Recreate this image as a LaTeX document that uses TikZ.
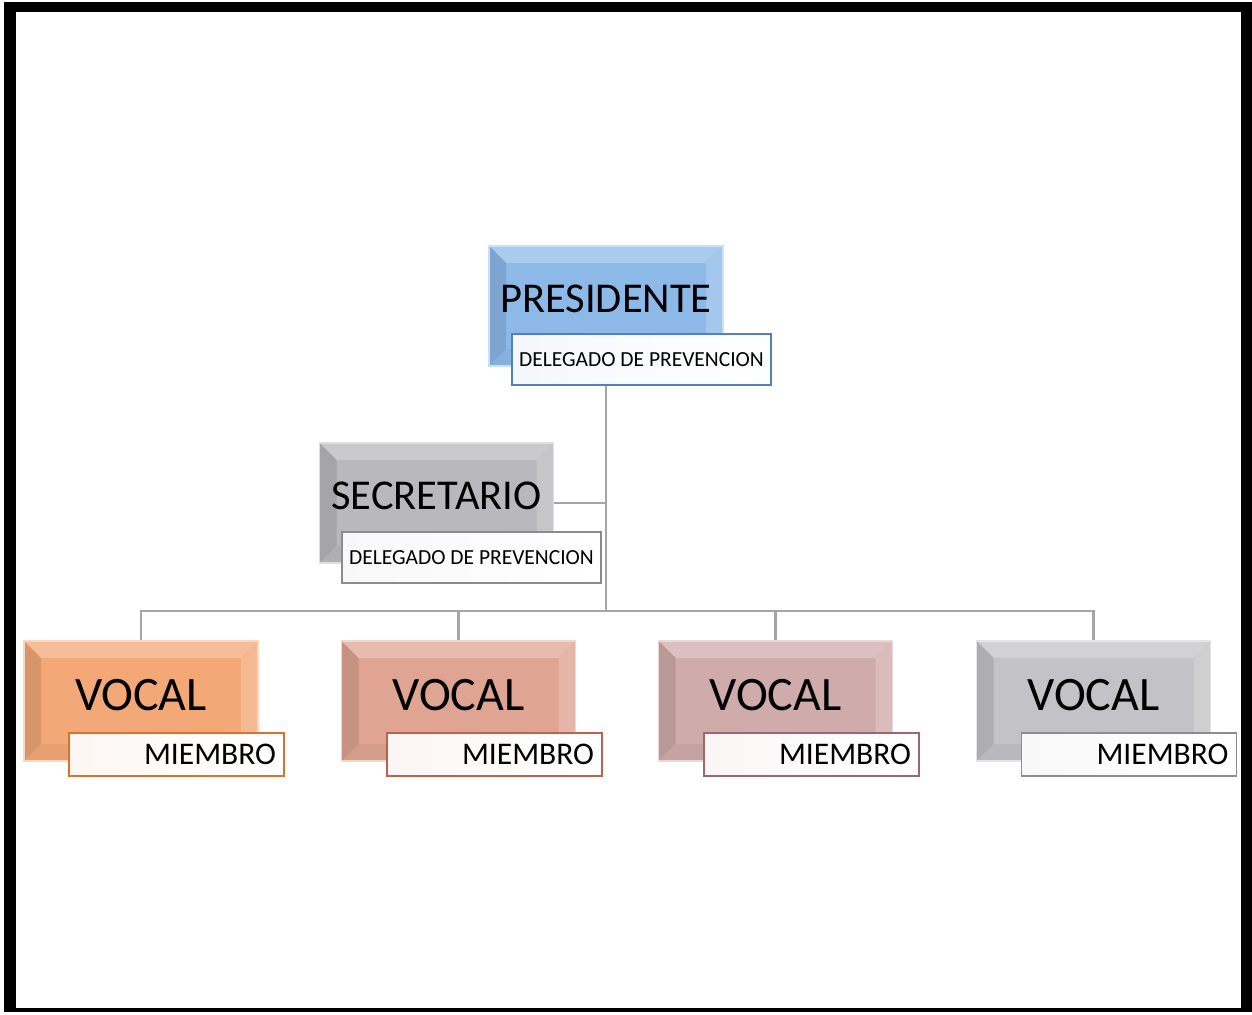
\documentclass[tikz,border=0pt]{standalone}
\usepackage{fontspec}
\setmainfont{Carlito}
\usetikzlibrary{backgrounds}

\definecolor{presblue}{HTML}{8DB9E9}
\definecolor{presedge}{HTML}{4F81BD}
\definecolor{secgrey}{HTML}{B9B9BD}
\definecolor{secedge}{HTML}{8C8C90}
\definecolor{vorange}{HTML}{F2A877}
\definecolor{vorangeedge}{HTML}{D8722F}
\definecolor{vsalmon}{HTML}{DFA492}
\definecolor{vsalmonedge}{HTML}{C0604F}
\definecolor{vrose}{HTML}{D0ABAB}
\definecolor{vroseedge}{HTML}{A0666A}
\definecolor{vgrey}{HTML}{C3C3C7}
\definecolor{vgreyedge}{HTML}{8C8C94}
\definecolor{linkgrey}{HTML}{A5A5A5}

\tikzset{
  % raised rectangle with bevelled rim
  bevelbox/.style={minimum width=234pt, minimum height=120pt, inner sep=0pt,
    fill=#1, draw=#1!45!white, line width=1.5pt,
    path picture={
      \def\bw{17pt}
      \fill[#1!75!white] (path picture bounding box.north west) -- (path picture bounding box.north east)
        -- ([shift={(-\bw,-\bw)}]path picture bounding box.north east) -- ([shift={(\bw,-\bw)}]path picture bounding box.north west) -- cycle;
      \fill[#1!80!white] (path picture bounding box.north east) -- (path picture bounding box.south east)
        -- ([shift={(-\bw,\bw)}]path picture bounding box.south east) -- ([shift={(-\bw,-\bw)}]path picture bounding box.north east) -- cycle;
      \fill[#1!89!black] (path picture bounding box.north west) -- (path picture bounding box.south west)
        -- ([shift={(\bw,\bw)}]path picture bounding box.south west) -- ([shift={(\bw,-\bw)}]path picture bounding box.north west) -- cycle;
      \fill[#1!95!black] (path picture bounding box.south west) -- (path picture bounding box.south east)
        -- ([shift={(-\bw,\bw)}]path picture bounding box.south east) -- ([shift={(\bw,\bw)}]path picture bounding box.south west) -- cycle;
    }},
  % white caption tab
  tabbox/.style={draw=#1, line width=1.8pt, left color=#1!6!white, right color=white},
  delegtab/.style={tabbox=#1, minimum width=259pt, minimum height=51pt, inner sep=0pt,
    font=\fontsize{21.5}{24}\selectfont},
  membertab/.style={tabbox=#1, text width=199pt, inner xsep=8pt, inner ysep=0pt, minimum height=43pt,
    align=right, font=\fontsize{31.5}{34}\selectfont},
  link/.style={draw=linkgrey, line width=2.5pt},
}

\begin{document}
\begin{tikzpicture}[x=1pt,y=-1pt]
\useasboundingbox (0,0) rectangle (1252,1014);

% boxes
\node[bevelbox=presblue, font=\fontsize{42.5}{46}\selectfont] (pres) at (606,306) {\raisebox{14pt}{PRESIDENTE}};
\node[bevelbox=secgrey, font=\fontsize{42.5}{46}\selectfont] (sec) at (436.5,503) {\raisebox{15pt}{SECRETARIO}};
\node[bevelbox=vorange, font=\fontsize{48}{52}\selectfont] (v1) at (141,701) {\raisebox{12pt}{VOCAL}};
\node[bevelbox=vsalmon, font=\fontsize{48}{52}\selectfont] (v2) at (458.5,701) {\raisebox{12pt}{VOCAL}};
\node[bevelbox=vrose, font=\fontsize{48}{52}\selectfont] (v3) at (775.5,701) {\raisebox{12pt}{VOCAL}};
\node[bevelbox=vgrey, font=\fontsize{48}{52}\selectfont] (v4) at (1093.5,701) {\raisebox{12pt}{VOCAL}};

\node[delegtab=presedge] (pressub) at (641.5,359.5) {DELEGADO DE PREVENCION};
\node[delegtab=secedge] (secsub) at (471.5,557.5) {DELEGADO DE PREVENCION};
\node[membertab=vorangeedge] (m1) at (176.5,754.5) {MIEMBRO};
\node[membertab=vsalmonedge] (m2) at (494.5,754.5) {MIEMBRO};
\node[membertab=vroseedge] (m3) at (811.5,754.5) {MIEMBRO};
\node[membertab=vgreyedge] (m4) at (1129,754.5) {MIEMBRO};

\coordinate (hub) at (606,611);

\begin{scope}[on background layer]
  % page and frame
  \fill[white] (0,0) rectangle (1252,1014);
  \fill[black] (4,2) rectangle (1252,1012);
  \fill[white] (16,12) rectangle (1241,1008);
  % connectors
  \draw[link] (pres.south) -- (hub);
  \draw[link] (sec.east) -- (sec.east -| hub);
  \draw[link] (v1.north) |- (hub);
  \draw[link] (v2.north) |- (hub);
  \draw[link] (v3.north) |- (hub);
  \draw[link] (v4.north) |- (hub);
\end{scope}
\end{tikzpicture}
\end{document}
